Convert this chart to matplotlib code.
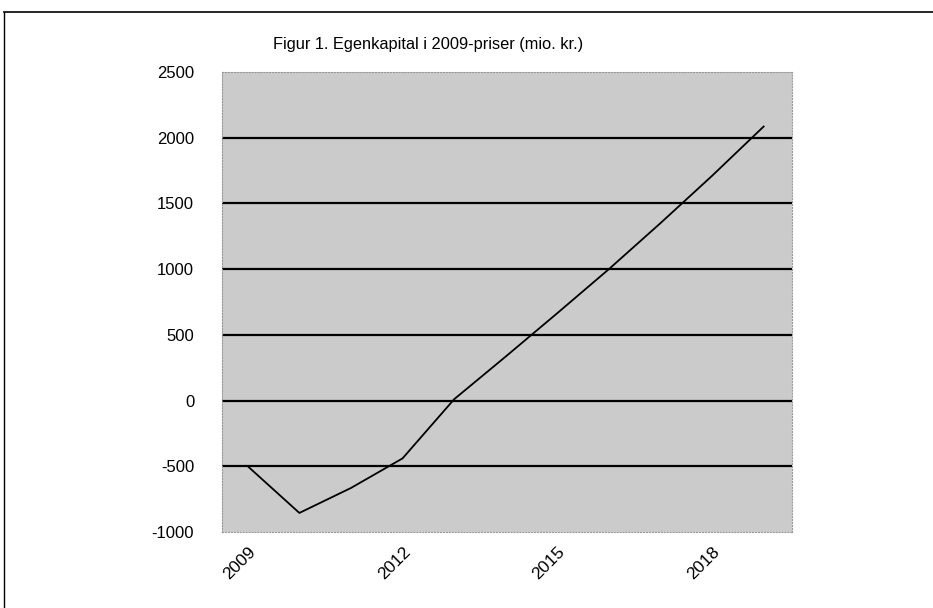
import matplotlib
matplotlib.use("Agg")
import matplotlib.pyplot as plt

years = [2009, 2010, 2011, 2012, 2013, 2014, 2015, 2016, 2017, 2018, 2019]
equity = [-500, -855, -665, -440, 10, 335, 665, 1000, 1350, 1710, 2085]
xtick_years = [2009, 2012, 2015, 2018]
yticks = [-1000, -500, 0, 500, 1000, 1500, 2000, 2500]
title = "Figur 1. Egenkapital i 2009-priser (mio. kr.)"

plt.rcParams['font.family'] = ['Liberation Sans', 'DejaVu Sans']

fig = plt.figure(figsize=(9.33, 6.08), dpi=100)
ax = fig.add_axes([222/933, 1-532/608, (792-222)/933, (532-72)/608])
ax.set_facecolor('#cbcbcb')

for y in yticks[1:-1]:
    ax.axhline(y, color='black', lw=1.6, zorder=1)

ax.plot(years, equity, color='black', lw=1.3, zorder=2)

ax.set_xlim(2008.5, 2019.55)
ax.set_ylim(-1000, 2500)
ax.set_yticks(yticks)
ax.set_yticklabels([str(v) for v in yticks], fontsize=12)
ax.set_xticks(xtick_years)
ax.set_xticklabels([str(v) for v in xtick_years], fontsize=12.5, rotation=45,
                   ha='right', rotation_mode='anchor')
ax.tick_params(axis='both', length=0)
ax.tick_params(axis='y', pad=20)
ax.tick_params(axis='x', pad=9)
for s in ax.spines.values():
    s.set_color('#999999')
    s.set_linewidth(0.8)
    s.set_linestyle(':')

fig.text(428/933, 1-45/608, title, ha='center', va='center', fontsize=11.8)

# outer frame (top and left edges visible)
fig.add_artist(plt.Line2D([4/933, 1], [1-12/608, 1-12/608], color='black', lw=1.2, transform=fig.transFigure))
fig.add_artist(plt.Line2D([4/933, 4/933], [0, 1-12/608], color='black', lw=1.0, transform=fig.transFigure))

fig.savefig('out.png', dpi=100, facecolor='white')
